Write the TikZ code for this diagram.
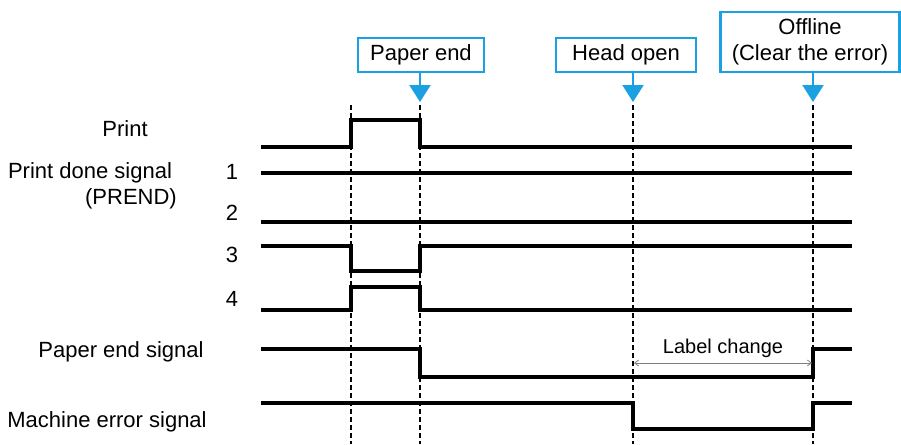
\documentclass[tikz,border=0pt]{standalone}
\usepackage{fontspec}
\setmainfont{Liberation Sans}
\usetikzlibrary{arrows.meta,calc}
\definecolor{callout blue}{RGB}{27,161,226}
\tikzstyle{signal} = [line width=3.2pt, line join=miter, line cap=rect]
\tikzstyle{timing line} = [line width=1.5pt, dash pattern=on 5pt off 3pt]
\tikzstyle{callout} = [draw=callout blue, line width=2.2pt, fill=white, inner sep=0pt, align=center, font=\fontsize{22}{26}\selectfont]
\tikzstyle{callout arrow} = [callout blue, line width=2.2pt, -{Triangle[width=21pt,length=17pt]}]
\tikzstyle{signal label} = [inner sep=0pt, font=\fontsize{22}{26}\selectfont]

\begin{document}
\begin{tikzpicture}[x=1pt,y=-1pt]
        \useasboundingbox (0,0) rectangle (901,444);

        % timing points
        \def\xa{263}
        \def\xb{850}
        \coordinate (t1) at (351,105);
        \coordinate (t2) at (420,105);
        \coordinate (t3) at (633,105);
        \coordinate (t4) at (813,105);

        % callouts
        \node[callout, minimum width=126pt, minimum height=34pt] (paper end) at (421,55) {Paper end};
        \node[callout, minimum width=140pt, minimum height=34pt] (head open) at (626,55) {Head open};
        \node[callout, minimum width=179pt, minimum height=60pt] (offline) at (810,42) {Offline\\(Clear the error)};

        \draw[callout arrow] (paper end.south -| t2) to ($(t2)+(0,-3)$);
        \draw[callout arrow] (head open.south -| t3) to ($(t3)+(0,-3)$);
        \draw[callout arrow] (offline.south -| t4) to ($(t4)+(0,-3)$);

        \draw[timing line] (t1) to (t1 |- 0,444);
        \draw[timing line] (t2) to (t2 |- 0,444);
        \draw[timing line] (t3) to (t3 |- 0,444);
        \draw[timing line] (t4) to (t4 |- 0,444);

        % signal names
        \node[signal label] (print) at (125,129) {Print};
        \node[signal label] (prend) at (90,173) {Print done signal};
        \node[signal label, anchor=east] (prend2) at (177,199) {(PREND)};
        \node[signal label] (n1) at (232,172) {1};
        \node[signal label] (n2) at (232,213) {2};
        \node[signal label] (n3) at (232,255) {3};
        \node[signal label] (n4) at (232,299) {4};
        \node[signal label] (pesig) at (121,352) {Paper end signal};
        \node[signal label] (mesig) at (107,422) {Machine error signal};

        % waveforms
        \draw[signal] (\xa,147) -- (351,147) -- (351,120) -- (420,120) -- (420,147) -- (\xb,147);
        \draw[signal] (\xa,173) -- (\xb,173);
        \draw[signal] (\xa,222) -- (\xb,222);
        \draw[signal] (\xa,246) -- (351,246) -- (351,271) -- (420,271) -- (420,246) -- (\xb,246);
        \draw[signal] (\xa,310) -- (351,310) -- (351,287) -- (420,287) -- (420,310) -- (\xb,310);
        \draw[signal] (\xa,349) -- (420,349) -- (420,377) -- (813,377) -- (813,349) -- (\xb,349);
        \draw[signal] (\xa,403) -- (633,403) -- (633,429) -- (813,429) -- (813,403) -- (\xb,403);

        \draw[gray, line width=.8pt, {Straight Barb[length=4pt,width=6pt]}-{Straight Barb[length=4pt,width=6pt]}]
            ($(t3 |- 0,363)+(1,0)$) to node[above=2pt, black, font=\fontsize{20}{24}\selectfont] (label change) {Label change} ($(t4 |- 0,363)+(-1,0)$);
\end{tikzpicture}
\end{document}
